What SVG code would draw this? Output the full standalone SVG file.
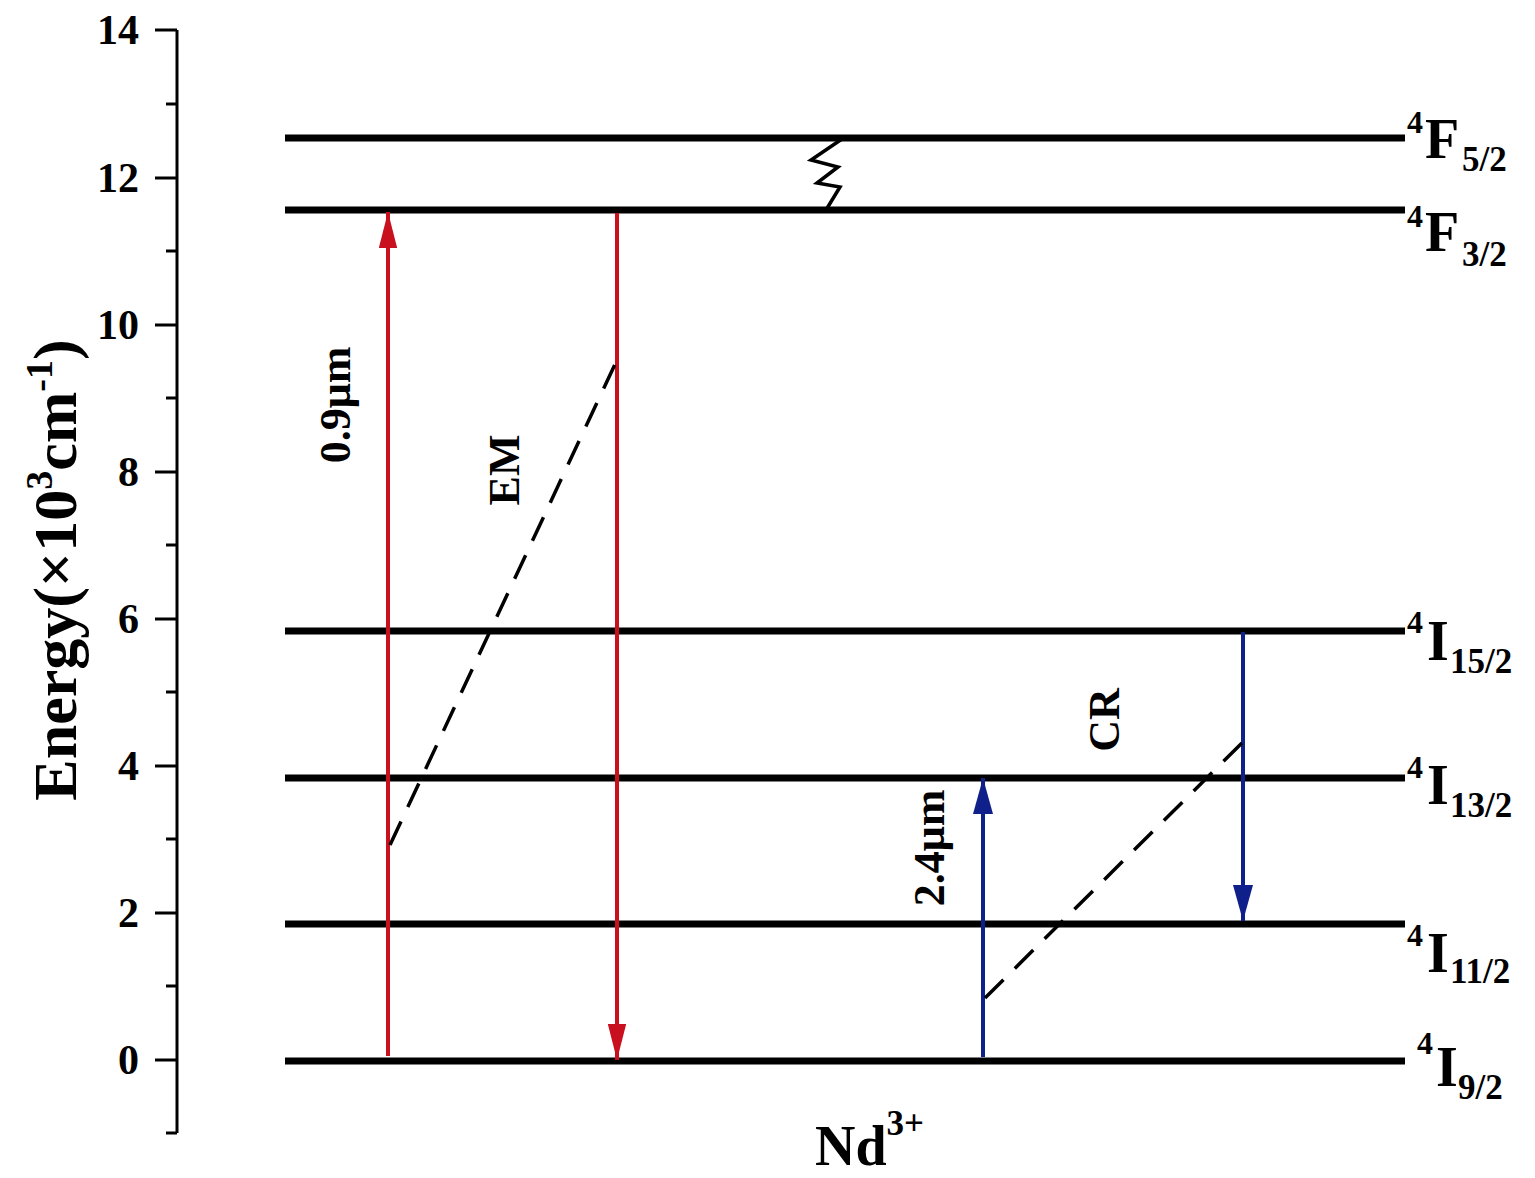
<svg xmlns="http://www.w3.org/2000/svg" width="1535" height="1178" viewBox="0 0 1535 1178">
<style>
text{font-family:"Liberation Serif","Times New Roman",serif;font-weight:bold;fill:#000}
.tick{font-size:42px;text-anchor:end}
.lvl{stroke:#000;stroke-width:7;fill:none}
.ax{stroke:#000;stroke-width:3;fill:none}
.red{stroke:#c8101e;stroke-width:4;fill:none}
.blue{stroke:#10208a;stroke-width:4;fill:none}
.dash{stroke:#000;stroke-width:3.5;fill:none;stroke-dasharray:26 16}
.big{font-size:56px}
.sup{font-size:32px}
.sub{font-size:35px}
.lab{font-size:44px}
</style>
<defs>
<marker id="ar" viewBox="0 0 20 10" refX="20" refY="5" markerWidth="9" markerHeight="4.6" orient="auto" markerUnits="strokeWidth" preserveAspectRatio="none"><path d="M0,0 L20,5 L0,10 z" fill="#c8101e"/></marker>
<marker id="ab" viewBox="0 0 20 10" refX="20" refY="5" markerWidth="9" markerHeight="5" orient="auto" markerUnits="strokeWidth" preserveAspectRatio="none"><path d="M0,0 L20,5 L0,10 z" fill="#10208a"/></marker>
</defs>
<g id="axis">
<path class="ax" d="M177,30 V1133 M155,30 H177 M155,178 H177 M155,325 H177 M155,472 H177 M155,619 H177 M155,766 H177 M155,913 H177 M155,1060 H177 M166,104 H177 M166,251 H177 M166,398 H177 M166,545 H177 M166,692 H177 M166,839 H177 M166,986 H177 M166,1133 H177"/>
<text class="tick" x="139" y="44">14</text>
<text class="tick" x="139" y="192">12</text>
<text class="tick" x="139" y="339">10</text>
<text class="tick" x="139" y="486">8</text>
<text class="tick" x="139" y="633">6</text>
<text class="tick" x="139" y="780">4</text>
<text class="tick" x="139" y="927">2</text>
<text class="tick" x="139" y="1074">0</text>
<text transform="translate(76,570) rotate(-90)" text-anchor="middle" font-size="62">Energy(×10<tspan font-size="38" dy="-24">3</tspan><tspan dy="24">cm</tspan><tspan font-size="38" dy="-24">-1</tspan><tspan dy="24">)</tspan></text>
<text x="815" y="1165" font-size="56">Nd<tspan font-size="35" dy="-30">3+</tspan></text>
</g>
<g id="levels">
<g id="F52"><path class="lvl" d="M285,138 H1405"/><text><tspan class="sup" x="1407" y="133">4</tspan><tspan class="big" x="1425" y="158">F</tspan><tspan class="sub" x="1462" y="171">5/2</tspan></text></g>
<g id="F32"><path class="lvl" d="M285,210 H1405"/><text><tspan class="sup" x="1407" y="227">4</tspan><tspan class="big" x="1425" y="251">F</tspan><tspan class="sub" x="1462" y="266">3/2</tspan></text></g>
<g id="I152"><path class="lvl" d="M285,631 H1405"/><text><tspan class="sup" x="1407" y="633">4</tspan><tspan class="big" x="1427" y="660">I</tspan><tspan class="sub" x="1450" y="673">15/2</tspan></text></g>
<g id="I132"><path class="lvl" d="M285,778 H1405"/><text><tspan class="sup" x="1407" y="778">4</tspan><tspan class="big" x="1427" y="804">I</tspan><tspan class="sub" x="1450" y="817">13/2</tspan></text></g>
<g id="I112"><path class="lvl" d="M285,924 H1405"/><text><tspan class="sup" x="1407" y="946">4</tspan><tspan class="big" x="1427" y="972">I</tspan><tspan class="sub" x="1450" y="983">11/2</tspan></text></g>
<g id="I92"><path class="lvl" d="M285,1061 H1405"/><text><tspan class="sup" x="1417" y="1054">4</tspan><tspan class="big" x="1436" y="1086">I</tspan><tspan class="sub" x="1458" y="1099">9/2</tspan></text></g>
</g>
<g id="connectors">
<path class="red" d="M388,1056 V212" marker-end="url(#ar)"/>
<path class="red" d="M617,213 V1060" marker-end="url(#ar)"/>
<path class="blue" d="M983,1057 V778" marker-end="url(#ab)"/>
<path class="blue" d="M1243,632 V921" marker-end="url(#ab)"/>
<path class="dash" d="M390,845 L617,360"/>
<path class="dash" d="M985,998 L1245,740"/>
<path stroke="#000" stroke-width="3.5" fill="none" stroke-linejoin="miter" d="M842,139 L811,160 L838,167 L817,183 L840,187 L826,210"/>
</g>
<g id="labels">
<text class="lab" transform="translate(350,405) rotate(-90)" text-anchor="middle">0.9μm</text>
<text class="lab" transform="translate(519,470) rotate(-90)" text-anchor="middle">EM</text>
<text class="lab" transform="translate(1119,720) rotate(-90)" text-anchor="middle">CR</text>
<text class="lab" transform="translate(944,848) rotate(-90)" text-anchor="middle">2.4μm</text>
</g>
</svg>
